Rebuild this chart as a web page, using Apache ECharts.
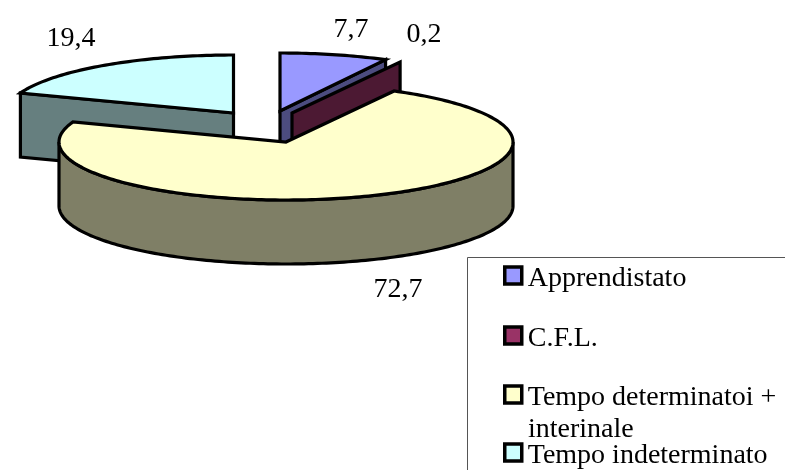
<!DOCTYPE html>
<html><head><meta charset="utf-8">
<style>html,body{margin:0;padding:0;background:#fff}#c{width:785px;height:470px}</style>
<script src="https://cdn.jsdelivr.net/npm/echarts@6/dist/echarts.min.js"></script>
</head><body><div id="c"></div>
<script>
const categories = ['Apprendistato', 'C.F.L.', 'Tempo determinatoi + interinale', 'Tempo indeterminato'];
const values = [7.7, 0.2, 72.7, 19.4];
const topColors = ['#9999ff', '#993366', '#ffffcc', '#ccffff'];
const sideColors = ['#4c4c7f', '#4c1933', '#7f7f66', '#667f7f'];
const apexX = [280, 292, 286, 233.5];
const apexY = [111, 113, 142, 113];
const labelX = [351, 424, 398, 71];
const labelY = [30, 35, 290, 39];
const drawOrder = [3, 0, 1, 2];
const RX = 227, RY = 58, DEPTH = 64;
const total = values.reduce((a, b) => a + b, 0);

function angleRange(i) {
  let s = 0;
  for (let k = 0; k < i; k++) s += values[k];
  return [s / total * Math.PI * 2, (s + values[i]) / total * Math.PI * 2];
}
function pt(i, a, dz) {
  return [apexX[i] + RX * Math.sin(a), apexY[i] - RY * Math.cos(a) + (dz || 0)];
}
function arc(i, a0, a1, dz) {
  const n = Math.max(2, Math.ceil(Math.abs(a1 - a0) / 0.02));
  const out = [];
  for (let k = 0; k <= n; k++) out.push(pt(i, a0 + (a1 - a0) * k / n, dz));
  return out;
}
const stroke = { stroke: '#000', lineWidth: 3.2, lineJoin: 'miter' };
function poly(points, fill) {
  return { type: 'polygon', shape: { points }, style: Object.assign({ fill }, stroke) };
}
function render(i) {
  return function () {
    const [a0, a1] = angleRange(i);
    const apex = [apexX[i], apexY[i]];
    const apexLow = [apexX[i], apexY[i] + DEPTH];
    const children = [];
    if (i === 0 || i === 1) {
      children.push(poly([apex, pt(i, a1), pt(i, a1, DEPTH), apexLow], sideColors[i]));
    }
    if (i === 3) {
      children.push(poly([apex, pt(i, a0), pt(i, a0, DEPTH), apexLow], sideColors[i]));
    }
    if (i === 2) {
      const r0 = Math.PI / 2, r1 = Math.PI * 1.5;
      children.push(poly(arc(i, r0, r1, 0).concat(arc(i, r1, r0, DEPTH)), sideColors[i]));
    }
    if (i !== 1) children.push(poly([apex].concat(arc(i, a0, a1)), topColors[i]));
    children.push({
      type: 'text', z2: 100,
      style: { x: labelX[i], y: labelY[i], text: String(values[i]).replace('.', ','),
        fill: '#000', font: '28px "Liberation Serif"', align: 'center', verticalAlign: 'middle' }
    });
    return { type: 'group', children };
  };
}
const series = drawOrder.map(i => ({
  type: 'custom', name: categories[i], coordinateSystem: 'none', silent: true,
  clip: false, animation: false, data: [[values[i]]],
  itemStyle: { color: topColors[i] }, renderItem: render(i)
}));
const legendTop = [265, 325, 384, 442];
const legend = categories.map((c, i) => ({
  data: [c], left: 503, top: legendTop[i], orient: 'vertical', padding: 0,
  selectedMode: false, icon: 'rect', itemWidth: 17, itemHeight: 17,
  itemStyle: { color: topColors[i], borderColor: '#000', borderWidth: 3.5 },
  formatter: n => '{a|' + n.replace(' interinale', '') + '}',
  textStyle: { color: '#000', fontFamily: 'Liberation Serif', fontSize: 28,
    rich: { a: { fontFamily: 'Liberation Serif', fontSize: 28, color: '#000', padding: [7, 0, 0, 1] } } }
}));
const chart = echarts.init(document.getElementById('c'), null, { renderer: 'canvas' });
chart.setOption({
  animation: false, backgroundColor: '#fff',
  legend, series,
  graphic: [
    { type: 'rect', shape: { x: 467.5, y: 257.5, width: 500, height: 400 }, z: -1,
      style: { fill: '#fff', stroke: '#555', lineWidth: 1 }, silent: true },
    { type: 'text', x: 528, y: 416, silent: true,
      style: { text: 'interinale', fill: '#000', font: '28px "Liberation Serif"' } }
  ]
});
</script></body></html>
